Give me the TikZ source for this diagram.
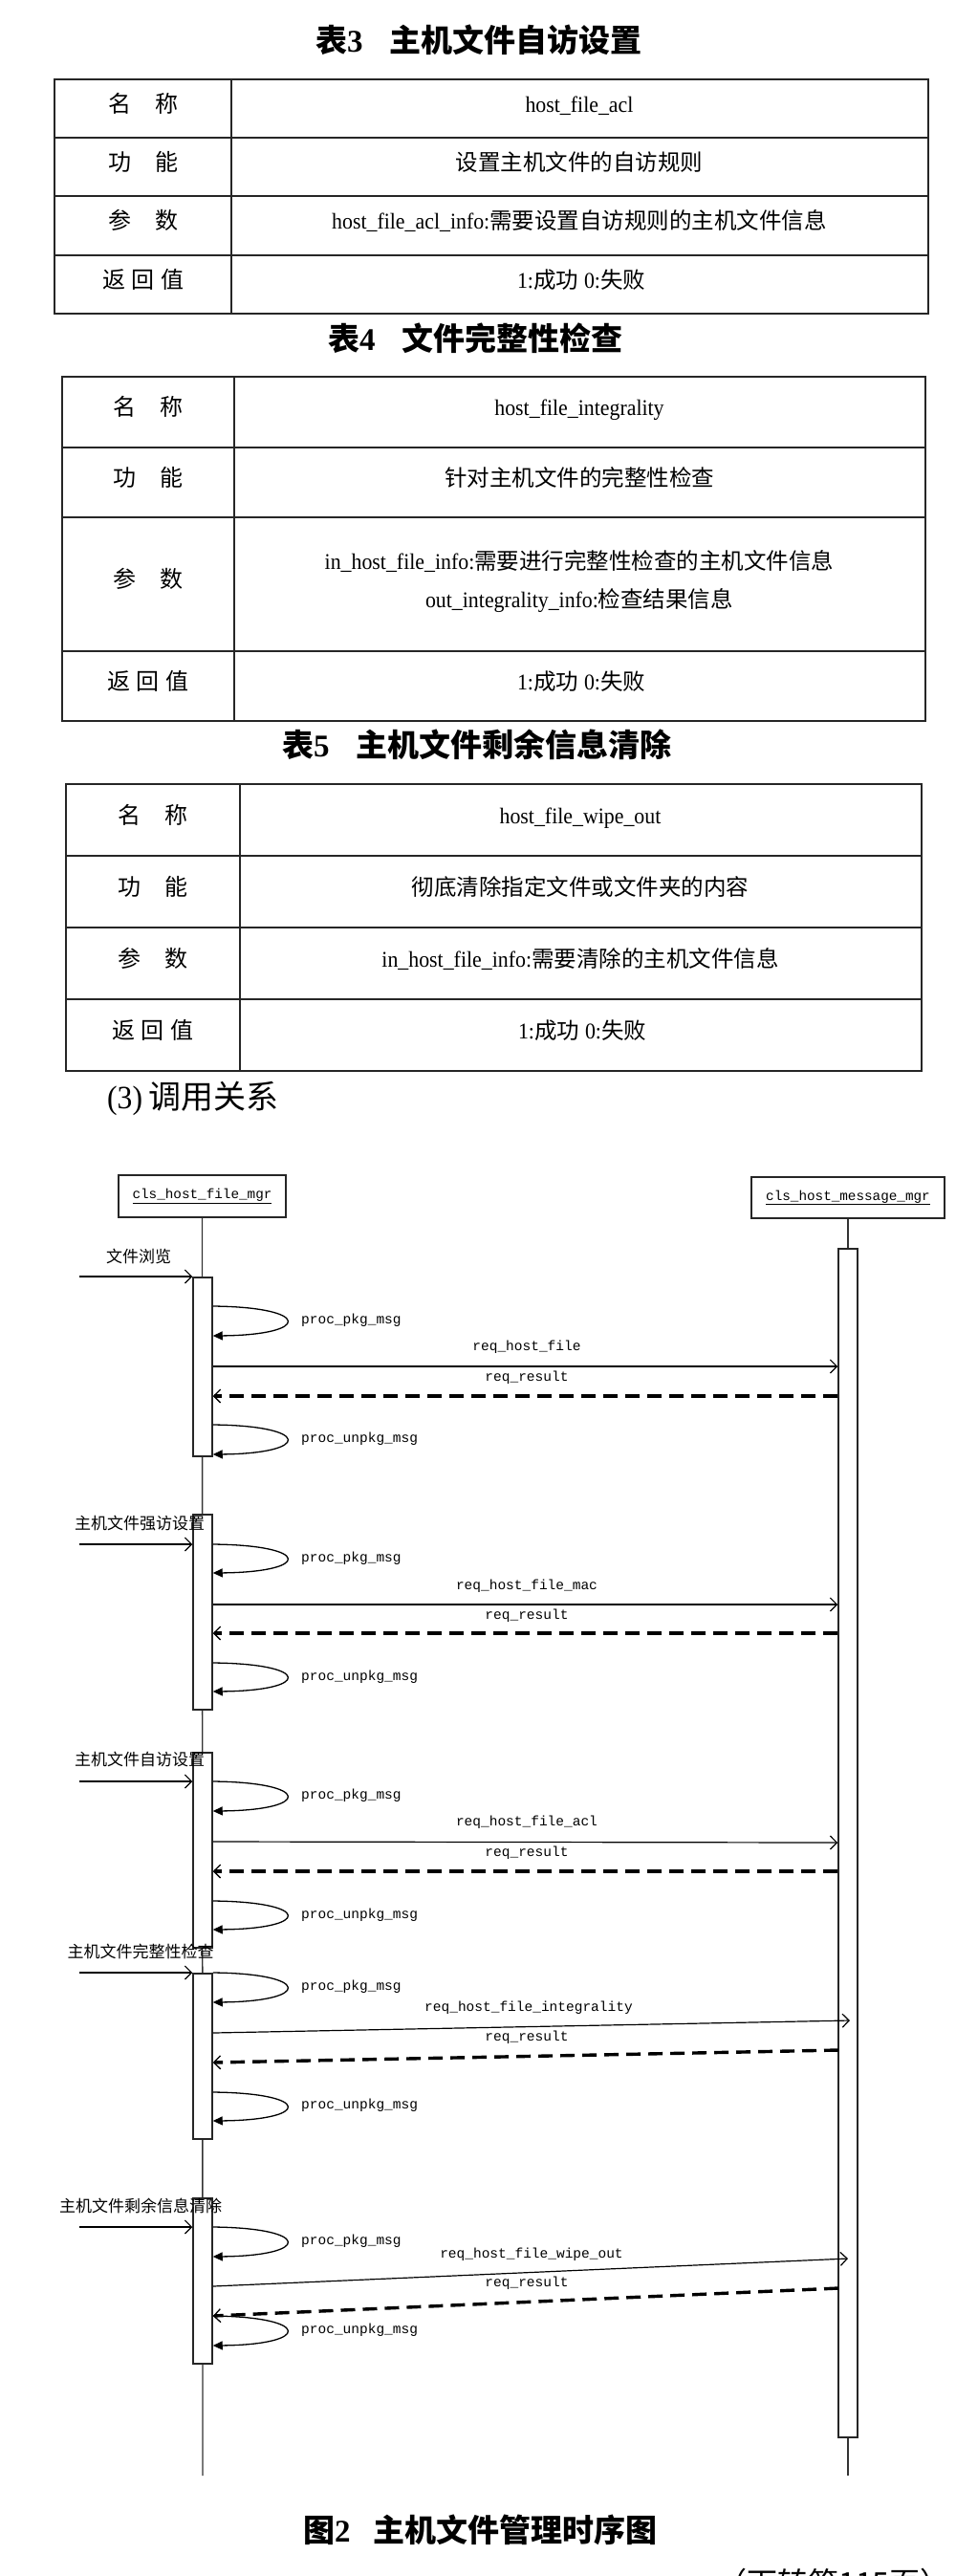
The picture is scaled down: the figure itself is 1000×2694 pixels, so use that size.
\documentclass[tikz,border=0pt]{standalone}
\usepackage{fontspec}
\setmainfont{Liberation Serif}
\newfontfamily\cjk{Noto Sans CJK SC}
\newfontfamily\latc[FakeStretch=0.93]{Liberation Serif}
\newfontfamily\monof{Liberation Mono}
\usetikzlibrary{arrows.meta}
\newcommand\lcpair[2]{{\latc #1}{\cjk #2}}
\begin{document}
\begin{tikzpicture}[x=1pt,y=-1pt,
  tbl/.style={draw=black!85, line width=2pt},
  cell/.style={inner sep=0pt, text height=0.86em, text depth=0.12em, font=\fontsize{23.5}{28}\selectfont},
  lcell/.style={cell, font=\fontsize{24}{28}\selectfont\cjk},
  ttl/.style={inner sep=0pt, anchor=west, text height=0.86em, text depth=0.12em, font=\fontsize{33}{36}\selectfont\bfseries},
  objbox/.style={draw=black!85, line width=1.6pt, fill=white, inner sep=0pt, font=\fontsize{14.3}{16}\selectfont\monof},
  life/.style={draw=black!80, line width=1.4pt},
  actbar/.style={draw=black!85, line width=1.5pt, fill=white, minimum width=20pt, inner sep=0pt, anchor=north},
  msg/.style={draw=black, line width=1.2pt, -{Straight Barb[length=7pt,width=14pt,line width=1.2pt 0]}},
  ret/.style={draw=black, line width=3.4pt, dash pattern=on 15pt off 8pt, -{Straight Barb[length=7pt,width=14pt,line width=1.3pt 0]}},
  selfcall/.style={draw=black, line width=1.3pt, -{Triangle[length=10pt,width=9pt]}},
  mlbl/.style={inner sep=0pt, text height=0.7em, text depth=0.2em, font=\fontsize{14.5}{16}\selectfont\monof},
  clbl/.style={inner sep=0pt, text height=0.86em, text depth=0.12em, font=\fontsize{17}{19}\selectfont\cjk}
]
\useasboundingbox (0,0) rectangle (1000,2694);
\fill[white] (0,0) rectangle (1000,2694);

% ---------------- Table 3
\node[ttl] (ti3) at (330,51) {{\cjk 表}3\hspace{28pt}{\cjk 主机文件自访设置}};
\draw[tbl] (57,83) rectangle (971,328);
\draw[tbl] (242,83) -- (242,328);
\foreach \yy in {144,205,267} \draw[tbl] (57,\yy) -- (971,\yy);
\node[lcell] (t3a) at (150,113.5) {名\hspace{25pt}称};
\node[lcell] (t3b) at (150,174.5) {功\hspace{25pt}能};
\node[lcell] (t3c) at (150,236) {参\hspace{25pt}数};
\node[lcell] (t3d) at (150,297.5) {返\hspace{7pt}回\hspace{7pt}值};
\node[cell] (t3e) at (606,113.5) {\latc host\_file\_acl};
\node[cell] (t3f) at (606,174.5) {\cjk 设置主机文件的自访规则};
\node[cell] (t3g) at (606,236) {\lcpair{host\_file\_acl\_info:}{需要设置自访规则的主机文件信息}};
\node[cell] (t3h) at (608,297.5) {\lcpair{1:}{成功}\hspace{6pt}\lcpair{0:}{失败}};

% ---------------- Table 4
\node[ttl] (ti4) at (343,363) {{\cjk 表}4\hspace{28pt}{\cjk 文件完整性检查}};
\draw[tbl] (65,394) rectangle (968,754);
\draw[tbl] (245,394) -- (245,754);
\foreach \yy in {468,541,681} \draw[tbl] (65,\yy) -- (968,\yy);
\node[lcell] (t4a) at (155,431) {名\hspace{25pt}称};
\node[lcell] (t4b) at (155,504.5) {功\hspace{25pt}能};
\node[lcell] (t4c) at (155,611) {参\hspace{25pt}数};
\node[lcell] (t4d) at (155,717.5) {返\hspace{7pt}回\hspace{7pt}值};
\node[cell] (t4e) at (606,431) {\latc host\_file\_integrality};
\node[cell] (t4f) at (606,504.5) {\cjk 针对主机文件的完整性检查};
\node[cell] (t4g) at (606,592) {\lcpair{in\_host\_file\_info:}{需要进行完整性检查的主机文件信息}};
\node[cell] (t4h) at (606,632) {\lcpair{out\_integrality\_info:}{检查结果信息}};
\node[cell] (t4i) at (608,717.5) {\lcpair{1:}{成功}\hspace{6pt}\lcpair{0:}{失败}};

% ---------------- Table 5
\node[ttl] (ti5) at (295,788) {{\cjk 表}5\hspace{28pt}{\cjk 主机文件剩余信息清除}};
\draw[tbl] (69,820) rectangle (964,1120);
\draw[tbl] (251,820) -- (251,1120);
\foreach \yy in {895,970,1045} \draw[tbl] (69,\yy) -- (964,\yy);
\node[lcell] (t5a) at (160,857.5) {名\hspace{25pt}称};
\node[lcell] (t5b) at (160,932.5) {功\hspace{25pt}能};
\node[lcell] (t5c) at (160,1007.5) {参\hspace{25pt}数};
\node[lcell] (t5d) at (160,1082.5) {返\hspace{7pt}回\hspace{7pt}值};
\node[cell] (t5e) at (607,857.5) {\latc host\_file\_wipe\_out};
\node[cell] (t5f) at (607,932.5) {\cjk 彻底清除指定文件或文件夹的内容};
\node[cell] (t5g) at (607,1007.5) {\lcpair{in\_host\_file\_info:}{需要清除的主机文件信息}};
\node[cell] (t5h) at (609,1082.5) {\lcpair{1:}{成功}\hspace{6pt}\lcpair{0:}{失败}};

% ---------------- (3)
\node[inner sep=0pt, anchor=west, text height=0.86em, text depth=0.12em, font=\fontsize{34}{36}\selectfont] (sec3) at (112,1156) {{\latc (3)}\hspace{6pt}{\cjk 调用关系}};

% ---------------- Sequence diagram
\node[objbox, minimum width=175pt, minimum height=44pt] (L) at (211.5,1251) {\underline{cls\_host\_file\_mgr}};
\node[objbox, minimum width=202pt, minimum height=43pt] (R) at (887,1252.5) {\underline{cls\_host\_message\_mgr}};
\coordinate (Lend) at (212,2589);
\coordinate (Rend) at (887,2589);
\draw[life] (L.south) -- (Lend);
\draw[life] (R.south) -- (Rend);

\node[actbar, minimum height=1243pt] (RB) at (887,1305) {};
\node[actbar, minimum height=187pt] (A1) at (212,1335) {};
\node[actbar, minimum height=204pt] (A2) at (212,1583) {};
\node[actbar, minimum height=204pt] (A3) at (212,1832) {};
\node[actbar, minimum height=173pt] (A4) at (212,2063) {};
\node[actbar, minimum height=173pt] (A5) at (212,2298) {};

% incoming calls
\coordinate (in1) at (83,1335);
\coordinate (in2) at (83,1615);
\coordinate (in3) at (83,1863);
\coordinate (in4) at (83,2063);
\coordinate (in5) at (83,2329);
\draw[msg] (in1) -- (A1.west |- in1);
\draw[msg] (in2) -- (A2.west |- in2);
\draw[msg] (in3) -- (A3.west |- in3);
\draw[msg] (in4) -- (A4.west |- in4);
\draw[msg] (in5) -- (A5.west |- in5);
\node[clbl] (g1) at (145,1317) {文件浏览};
\node[clbl] (g2) at (146,1596) {主机文件强访设置};
\node[clbl] (g3) at (146,1843) {主机文件自访设置};
\node[clbl] (g4) at (147,2044) {主机文件完整性检查};
\node[clbl] (g5) at (147,2310) {主机文件剩余信息清除};

% self calls
\draw[selfcall] (A1.east |- 0,1366) .. controls (326,1367) and (326,1396) .. (A1.east |- 0,1397);
\draw[selfcall] (A1.east |- 0,1490) .. controls (326,1491) and (326,1520) .. (A1.east |- 0,1521);
\draw[selfcall] (A2.east |- 0,1615) .. controls (326,1616) and (326,1644) .. (A2.east |- 0,1645);
\draw[selfcall] (A2.east |- 0,1739) .. controls (326,1740) and (326,1768) .. (A2.east |- 0,1769);
\draw[selfcall] (A3.east |- 0,1863) .. controls (326,1864) and (326,1893) .. (A3.east |- 0,1894);
\draw[selfcall] (A3.east |- 0,1988) .. controls (326,1989) and (326,2017) .. (A3.east |- 0,2018);
\draw[selfcall] (A4.east |- 0,2063) .. controls (326,2064) and (326,2093) .. (A4.east |- 0,2094);
\draw[selfcall] (A4.east |- 0,2188) .. controls (326,2189) and (326,2217) .. (A4.east |- 0,2218);
\draw[selfcall] (A5.east |- 0,2329) .. controls (326,2330) and (326,2359) .. (A5.east |- 0,2360);
\draw[selfcall] (A5.east |- 0,2422) .. controls (326,2423) and (326,2452) .. (A5.east |- 0,2453);
\node[mlbl, anchor=west] (s1a) at (315,1382) {proc\_pkg\_msg};
\node[mlbl, anchor=west] (s1b) at (315,1506) {proc\_unpkg\_msg};
\node[mlbl, anchor=west] (s2a) at (315,1631) {proc\_pkg\_msg};
\node[mlbl, anchor=west] (s2b) at (315,1755) {proc\_unpkg\_msg};
\node[mlbl, anchor=west] (s3a) at (315,1879) {proc\_pkg\_msg};
\node[mlbl, anchor=west] (s3b) at (315,2004) {proc\_unpkg\_msg};
\node[mlbl, anchor=west] (s4a) at (315,2079) {proc\_pkg\_msg};
\node[mlbl, anchor=west] (s4b) at (315,2203) {proc\_unpkg\_msg};
\node[mlbl, anchor=west] (s5a) at (315,2345) {proc\_pkg\_msg};
\node[mlbl, anchor=west] (s5b) at (315,2438) {proc\_unpkg\_msg};

% requests and results
\draw[msg] (A1.east |- 0,1429) -- (RB.west |- 0,1429);
\draw[ret] (RB.west |- 0,1460) -- (A1.east |- 0,1460);
\draw[msg] (A2.east |- 0,1678) -- (RB.west |- 0,1678);
\draw[ret] (RB.west |- 0,1708) -- (A2.east |- 0,1708);
\draw[msg] (A3.east |- 0,1926) -- (RB.west |- 0,1927);
\draw[ret] (RB.west |- 0,1957) -- (A3.east |- 0,1957);
\coordinate (q4) at (889,2113);
\coordinate (r4) at (877,2144);
\draw[msg] (A4.east |- 0,2126) -- (q4);
\draw[ret] (r4) -- (A4.east |- 0,2157);
\coordinate (q5) at (887,2362);
\coordinate (r5) at (877,2393);
\draw[msg] (A5.east |- 0,2391) -- (q5);
\draw[ret] (r5) -- (A5.east |- 0,2422);

\node[mlbl] (m1a) at (551,1410) {req\_host\_file};
\node[mlbl] (m1b) at (551,1442) {req\_result};
\node[mlbl] (m2a) at (551,1660) {req\_host\_file\_mac};
\node[mlbl] (m2b) at (551,1691) {req\_result};
\node[mlbl] (m3a) at (551,1907) {req\_host\_file\_acl};
\node[mlbl] (m3b) at (551,1939) {req\_result};
\node[mlbl] (m4a) at (553,2101) {req\_host\_file\_integrality};
\node[mlbl] (m4b) at (551,2132) {req\_result};
\node[mlbl] (m5a) at (556,2359) {req\_host\_file\_wipe\_out};
\node[mlbl] (m5b) at (551,2389) {req\_result};

% caption
\node[ttl] (cap) at (317,2655) {{\cjk 图}2\hspace{24pt}{\cjk 主机文件管理时序图}};
\node[inner sep=0pt, anchor=north, font=\fontsize{32}{34}\selectfont\cjk] (cont) at (872,2686) {（下转第115页）};
\end{tikzpicture}
\end{document}
